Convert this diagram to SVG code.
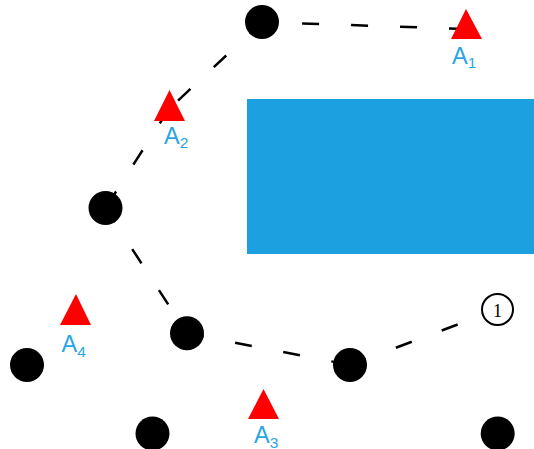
<svg xmlns="http://www.w3.org/2000/svg" width="534" height="449" viewBox="0 0 534 449">
<style>
.dash{stroke:#000;stroke-width:2.5;stroke-dasharray:17 32;fill:none}
.node{fill:#000}
.tri{fill:#ff0000}
.lbl{font-family:"Liberation Sans",Arial,sans-serif;font-size:23.5px;fill:#29a6e2}
.sub{font-size:15.5px}
</style>
<rect id="block" x="247" y="99" width="287" height="155" fill="#1da0e0"/>
<g id="connectors">
<line class="dash" x1="466" y1="29" x2="262" y2="22"/>
<line class="dash" x1="262" y1="22" x2="169" y2="109"/>
<line class="dash" x1="169" y1="109" x2="105.5" y2="208"/>
<line class="dash" x1="105.5" y1="208" x2="187" y2="333.3"/>
<line class="dash" x1="187" y1="333.3" x2="350" y2="365"/>
<line class="dash" x1="350" y1="365" x2="497.5" y2="309.5"/>
</g>
<g id="n1"><circle class="node" cx="262" cy="22" r="17"/></g>
<g id="n2"><circle class="node" cx="105.5" cy="208" r="17"/></g>
<g id="n3"><circle class="node" cx="187" cy="333.3" r="17"/></g>
<g id="n4"><circle class="node" cx="350" cy="365" r="17"/></g>
<g id="n5"><circle class="node" cx="27" cy="365" r="17"/></g>
<g id="n6"><circle class="node" cx="152.5" cy="433.5" r="17"/></g>
<g id="n7"><circle class="node" cx="497.7" cy="433.5" r="17"/></g>
<g id="mark1"><circle cx="497.5" cy="309.5" r="15.5" fill="#fff" stroke="#000" stroke-width="2"/><text x="497.5" y="316.5" text-anchor="middle" font-family="'Liberation Serif','DejaVu Serif',serif" font-size="18">1</text></g>
<g id="A1"><polygon class="tri" points="466,9 482,39 451,39"/><text class="lbl" x="452" y="63.5">A<tspan class="sub" dy="4.5">1</tspan></text></g>
<g id="A2"><polygon class="tri" points="169.5,90 185,121 154,121"/><text class="lbl" x="164" y="143.5">A<tspan class="sub" dy="4.5">2</tspan></text></g>
<g id="A3"><polygon class="tri" points="263.5,389 279,419 248,419"/><text class="lbl" x="254" y="443">A<tspan class="sub" dy="4.5">3</tspan></text></g>
<g id="A4"><polygon class="tri" points="76,294 91,325 60,325"/><text class="lbl" x="61.5" y="352">A<tspan class="sub" dy="4.5">4</tspan></text></g>
</svg>
